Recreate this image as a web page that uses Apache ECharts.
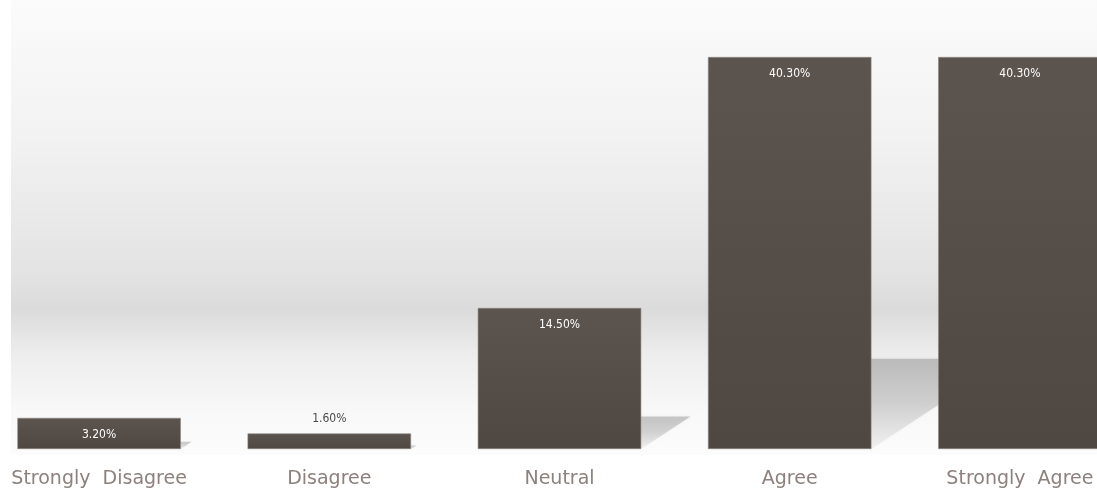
<!DOCTYPE html>
<html>
<head>
<meta charset="utf-8">
<script src="https://cdn.jsdelivr.net/npm/echarts@6/dist/echarts.min.js"></script>
<style>
html,body{margin:0;padding:0;background:#ffffff;}
#chart{width:1097px;height:493px;}
</style>
</head>
<body>
<div id="chart"></div>
<script>
const categories = ['Strongly  Disagree', 'Disagree', 'Neutral', 'Agree', 'Strongly  Agree'];
const values = [3.2, 1.6, 14.5, 40.3, 40.3];
const valueLabels = ['3.20%', '1.60%', '14.50%', '40.30%', '40.30%'];

const chart = echarts.init(document.getElementById('chart'), null, {renderer: 'canvas'});
const barColor = new echarts.graphic.LinearGradient(0, 0, 0, 1, [
  {offset: 0, color: '#5c544e'},
  {offset: 1, color: '#4f4742'}
]);
const option = {
  animation: false,
  graphic: [{
    type: 'rect', z: -10, silent: true,
    shape: {x: 11, y: 0, width: 1086, height: 455},
    style: {
      fill: new echarts.graphic.LinearGradient(0, 0, 0, 1, [
        {offset: 0, color: '#fbfbfb'},
        {offset: 0.3, color: '#f2f2f2'},
        {offset: 0.6, color: '#e3e3e3'},
        {offset: 0.68, color: '#dbdbdb'},
        {offset: 0.78, color: '#ededed'},
        {offset: 0.9, color: '#f8f8f8'},
        {offset: 1, color: '#fcfcfc'}
      ])
    }
  }],
  grid: {left: -16, width: 1151, top: 57, bottom: 44, containLabel: false, outerBoundsMode: 'none'},
  xAxis: {
    type: 'category', data: categories,
    axisLine: {show: false}, axisTick: {show: false},
    axisLabel: {color: '#8c817c', fontSize: 19, fontFamily: 'DejaVu Sans', margin: 21, interval: 0}
  },
  yAxis: {
    type: 'value', min: 0, max: Math.max(...values), show: false,
    splitLine: {show: false}
  },
  series: [
    {
      type: 'custom', z: 1, silent: true,
      data: values.map((v, i) => [i, v]),
      renderItem: function (params, api) {
        const idx = api.value(0), v = api.value(1);
        const top = api.coord([idx, v]);
        const base = api.coord([idx, 0]);
        const band = api.size([1, 0])[0];
        const h = base[1] - top[1];
        const left = top[0] - band * 0.355, right = top[0] + band * 0.355;
        const dx = h * 0.35, dy = h * 0.23;
        return {
          type: 'polygon',
          shape: {points: [[left, base[1]], [right, base[1]], [right + dx, base[1] - dy], [left + dx, base[1] - dy]]},
          style: {
            fill: new echarts.graphic.LinearGradient(0, 0, 0, 1, [
              {offset: 0, color: 'rgba(0,0,0,0.2)'},
              {offset: 0.5, color: 'rgba(0,0,0,0.15)'},
              {offset: 1, color: 'rgba(0,0,0,0.04)'}
            ]),
            shadowBlur: 5, shadowColor: 'rgba(0,0,0,0.1)'
          }
        };
      }
    },
    {
      type: 'bar', z: 5, barWidth: '71%',
      data: values.map((v, i) => ({
        value: v,
        label: i === 1 ? {position: 'top', color: '#4a4a4a', distance: 9} : {}
      })),
      itemStyle: {color: barColor, borderColor: '#8d8682', borderWidth: 0.6},
      label: {
        show: true, position: 'insideTop', distance: 11,
        color: '#ffffff', fontSize: 12, fontFamily: 'Liberation Sans Narrow, DejaVu Sans Condensed, sans-serif',
        formatter: p => valueLabels[p.dataIndex]
      }
    }
  ]
};
chart.setOption(option);
</script>
</body>
</html>
